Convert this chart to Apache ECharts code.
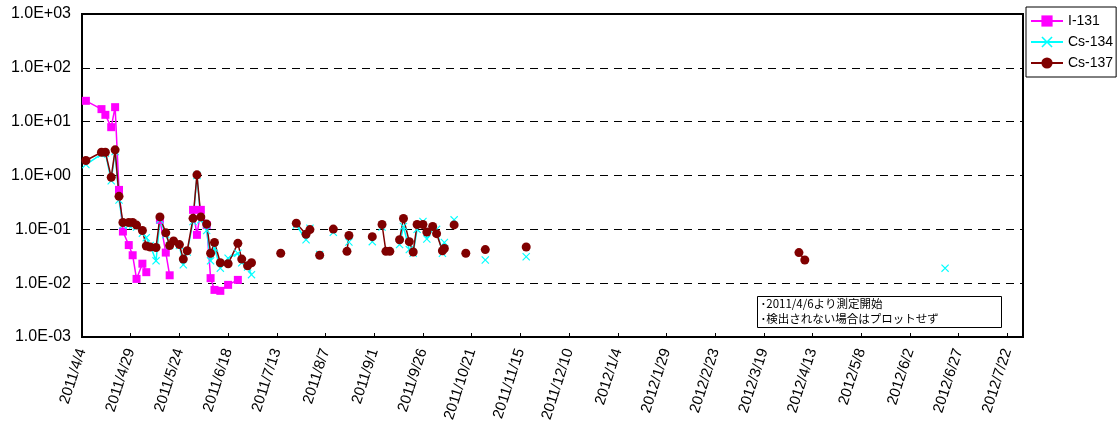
<!DOCTYPE html>
<html>
<head>
<meta charset="utf-8">
<script src="https://cdn.jsdelivr.net/npm/echarts@6/dist/echarts.min.js"></script>
<style>
html,body{margin:0;padding:0;background:#fff;}
#chart{width:1119px;height:422px;}
</style>
</head>
<body>
<div id="chart"></div>
<script>
// Measurement dates (rows with all nulls = measured but not detected)
const dates = [
  '2011/4/6','2011/4/14','2011/4/16','2011/4/19','2011/4/21','2011/4/23','2011/4/25','2011/4/28','2011/4/30','2011/5/2',
  '2011/5/5','2011/5/7','2011/5/9','2011/5/12','2011/5/14','2011/5/17','2011/5/19','2011/5/21','2011/5/24','2011/5/26',
  '2011/5/28','2011/5/31','2011/6/2','2011/6/4','2011/6/7','2011/6/9','2011/6/11','2011/6/14','2011/6/18','2011/6/23',
  '2011/6/25','2011/6/28','2011/6/30','2011/7/7','2011/7/15','2011/7/19','2011/7/23','2011/7/28','2011/7/30','2011/8/1',
  '2011/8/4','2011/8/8','2011/8/11','2011/8/15','2011/8/18','2011/8/19','2011/8/25','2011/8/31','2011/9/2','2011/9/5',
  '2011/9/7','2011/9/9','2011/9/12','2011/9/14','2011/9/16','2011/9/19','2011/9/21','2011/9/23','2011/9/26','2011/9/28',
  '2011/10/1','2011/10/3','2011/10/6','2011/10/7','2011/10/10','2011/10/12','2011/10/15','2011/10/18','2011/10/23','2011/10/28',
  '2011/11/4','2011/11/11','2011/11/18','2012/1/10','2012/4/6','2012/4/9','2012/6/20'
];
const i131 = [
  24.4, 17.1, 13.4, 7.9, 18.6, 0.54, 0.091, 0.051, 0.033, 0.012,
  0.023, 0.016, null, null, 0.15, 0.037, 0.014, null, null, null,
  null, 0.23, 0.079, 0.23, 0.12, 0.0124, 0.0075, 0.0072, 0.0093, 0.0115,
  null, null, null, null, null, null, null, null, null, null,
  null, null, null, null, null, null, null, null, null, null,
  null, null, null, null, null, null, null, null, null, null,
  null, null, null, null, null, null, null, null, null, null,
  null, null, null, null, null, null, null
];
const cs134 = [
  1.6, 2.5, 2.6, 0.8, 2.8, 0.35, 0.12, 0.12, 0.12, 0.11,
  0.085, 0.07, 0.05, 0.026, 0.15, 0.08, 0.05, 0.055, 0.05, 0.022,
  0.038, 0.14, 1.0, 0.15, 0.095, 0.026, 0.045, 0.019, 0.029, 0.036,
  0.024, 0.02, 0.0144, null, null, null, 0.12, 0.064, 0.105, null,
  0.034, null, 0.088, null, null, 0.058, null, 0.059, null, 0.11,
  null, null, null, 0.052, 0.113, 0.042, 0.036, 0.10, 0.14, 0.066,
  0.10, 0.10, 0.036, 0.057, null, 0.15, null, null, null, 0.027,
  null, null, 0.031, null, null, null, 0.019
];
const cs137 = [
  1.9, 2.7, 2.7, 0.93, 3.0, 0.41, 0.134, 0.134, 0.134, 0.12,
  0.095, 0.049, 0.047, 0.046, 0.17, 0.086, 0.05, 0.061, 0.052, 0.028,
  0.04, 0.16, 1.03, 0.17, 0.125, 0.036, 0.057, 0.024, 0.023, 0.055,
  0.028, 0.021, 0.024, null, 0.036, null, 0.13, 0.081, 0.099, null,
  0.033, null, 0.101, null, 0.039, 0.077, null, 0.073, null, 0.123,
  0.039, 0.039, null, 0.064, 0.159, 0.059, 0.038, 0.123, 0.123, 0.089,
  0.113, 0.083, 0.04, 0.044, null, 0.121, null, 0.036, null, 0.042,
  null, null, 0.047, null, 0.037, 0.027, null
];
const xTickStart = '2011/4/4';
const xTickStepDays = 25;
const xMaxDays = 483;
const yTicks = [0.001, 0.01, 0.1, 1, 10, 100, 1000];
const seriesNames = ['I-131', 'Cs-134', 'Cs-137'];
const noteLines = ['･2011/4/6より測定開始', '･検出されない場合はプロットせず'];

const DAY = 86400000;
function toUTC(s){ const p = s.split('/').map(Number); return Date.UTC(p[0], p[1]-1, p[2]); }
const base = toUTC(xTickStart);
function dayOf(s){ return Math.round((toUTC(s) - base) / DAY); }
function dayLabel(d){
  const t = new Date(base + d * DAY);
  return t.getUTCFullYear() + '/' + (t.getUTCMonth()+1) + '/' + t.getUTCDate();
}
function pairs(vals){ return dates.map((d,i) => [dayOf(d), vals[i] == null ? '-' : vals[i]]); }
function fmtExp(v){
  const e = Math.round(Math.log10(v));
  const sign = e < 0 ? '-' : '+';
  const a = Math.abs(e);
  return '1.0E' + sign + (a < 10 ? '0' + a : a);
}

const FONT = '"Liberation Sans", Arial, sans-serif';
const xPath = 'path://M1,0L5,4L9,0L10,1L6,5L10,9L9,10L5,6L1,10L0,9L4,5L0,1Z';

const chart = echarts.init(document.getElementById('chart'), null, {renderer: 'canvas'});
chart.setOption({
  animation: false,
  backgroundColor: '#fff',
  textStyle: {fontFamily: FONT},
  grid: {left: 82, top: 14, right: 96, bottom: 85, show: true, borderColor: '#000', borderWidth: 2, backgroundColor: '#fff', containLabel: false, outerBoundsMode: 'none'},
  legend: {
    orient: 'vertical', left: 1026, top: 7,
    padding: [7, 3, 7, 4], itemGap: 7, itemWidth: 32, itemHeight: 14,
    borderColor: '#000', borderWidth: 1, backgroundColor: '#fff',
    textStyle: {fontSize: 14, color: '#000', fontFamily: FONT},
    data: seriesNames
  },
  xAxis: {
    type: 'value', min: 0, max: xMaxDays, interval: xTickStepDays,
    axisLine: {show: true, lineStyle: {color: '#000', width: 2}},
    axisTick: {show: true, inside: true, length: 4, lineStyle: {color: '#000', width: 1}},
    splitLine: {show: false},
    axisLabel: {
      rotate: 72, margin: 12, fontSize: 15, color: '#000', fontFamily: FONT,
      showMaxLabel: true,
      formatter: v => (v % xTickStepDays === 0) ? dayLabel(v) : ''
    }
  },
  yAxis: {
    type: 'log', logBase: 10, min: yTicks[0], max: yTicks[yTicks.length-1], interval: 1, splitNumber: 6,
    axisLine: {show: true, lineStyle: {color: '#000', width: 2}},
    axisTick: {show: false},
    splitLine: {show: true, lineStyle: {color: '#000', width: 1, type: [8, 6]}},
    axisLabel: {fontSize: 16, color: '#000', margin: 11, fontFamily: FONT, formatter: v => fmtExp(v)}
  },
  series: [
    {
      name: seriesNames[0], type: 'line', data: pairs(i131),
      symbol: 'rect', symbolSize: 8, showSymbol: true, connectNulls: false,
      lineStyle: {color: '#ff00ff', width: 1.5}, itemStyle: {color: '#ff00ff'}
    },
    {
      name: seriesNames[1], type: 'line', data: pairs(cs134),
      symbol: xPath, symbolSize: 8, showSymbol: true, connectNulls: false,
      lineStyle: {color: '#00ffff', width: 1.5}, itemStyle: {color: '#00ffff'}
    },
    {
      name: seriesNames[2], type: 'line', data: pairs(cs137),
      symbol: 'circle', symbolSize: 9, showSymbol: true, connectNulls: false,
      lineStyle: {color: '#800000', width: 1.5}, itemStyle: {color: '#800000'}
    }
  ],
  graphic: [{
    type: 'group', left: 757, top: 296,
    children: [
      {type: 'rect', shape: {x: 0, y: 0, width: 244, height: 31}, style: {fill: '#fff', stroke: '#000', lineWidth: 1}},
      {type: 'text', x: 3, y: 1, style: {text: noteLines[0], fontSize: 11.5, fontFamily: '"Noto Sans CJK JP", sans-serif', fill: '#000'}},
      {type: 'text', x: 3, y: 16, style: {text: noteLines[1], fontSize: 11.5, fontFamily: '"Noto Sans CJK JP", sans-serif', fill: '#000'}}
    ]
  }]
});
</script>
</body>
</html>
